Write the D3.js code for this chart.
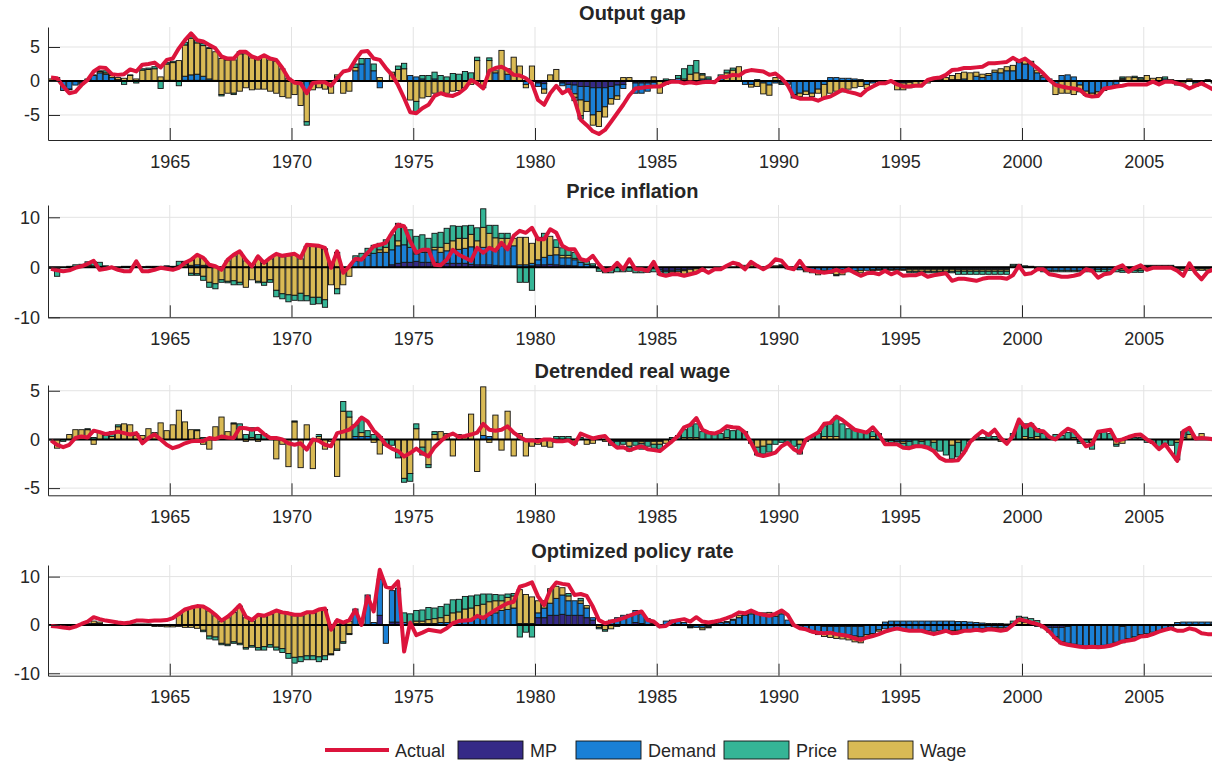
<!DOCTYPE html>
<html>
<head>
<meta charset="utf-8">
<script src="https://cdn.jsdelivr.net/npm/d3@7"></script>
<style>
  body { margin: 0; background: #fff; }
  svg text { font-family: "Liberation Sans", Arial, Helvetica, sans-serif; fill: #262626; }
</style>
</head>
<body>
<svg id="chart" width="1212" height="765"></svg>
<script>
// quarterly data, 1960Q1 .. 2007Q4 (16 quarters per row)
// an entry [up, down] means the group has a positive and a negative part that quarter
var firstQuarter = 1960.125;
var xTicks = [1965, 1970, 1975, 1980, 1985, 1990, 1995, 2000, 2005];
var seriesNames = ["MP", "Demand", "Price", "Wage"];

// ---- Output gap
var gapAct = [
0.5,0.4,-0.8,-1.8,-1.6,-0.6,0.15,1.4,2.0,1.9,1.0,0.9,1.0,1.7,1.4,2.4,
2.5,2.7,2.0,3.1,3.3,4.8,6.0,7.0,6.0,5.8,5.3,4.8,3.6,3.3,3.3,4.3,
4.3,3.6,3.3,3.8,3.3,3.1,1.9,0.4,-0.25,-0.35,-1.8,-0.3,-0.2,-0.2,-0.7,0.4,
1.4,1.6,3.1,4.3,4.4,3.3,3.1,1.9,0.9,-0.6,-2.5,-4.6,-4.75,-4.0,-3.5,-2.2,
-1.8,-2.1,-2.2,-1.8,-1.1,0.15,-0.35,-1.1,1.5,1.9,2.1,1.6,0.9,0.8,0.4,-0.35,
-2.8,-3.5,-1.8,-0.7,-1.8,-1.3,-2.8,-5.7,-6.5,-7.4,-7.8,-7.2,-6.0,-4.75,-3.5,-2.1,
-1.1,-1.0,-0.9,-0.8,-0.8,-0.35,-0.1,-0.1,-0.35,-0.2,-0.35,-0.2,-0.1,-0.2,0.6,0.6,
0.9,0.8,1.4,1.6,1.5,1.4,0.9,1.1,0.4,-0.6,-2.3,-2.6,-2.6,-2.6,-2.9,-2.5,
-2.3,-1.8,-1.3,-1.6,-1.8,-2.1,-1.3,-0.8,-0.35,-0.35,0,-0.5,-0.8,-0.8,-0.7,-0.7,
0.15,0.4,0.5,0.9,1.6,1.7,1.9,1.9,2.0,2.1,2.6,2.6,2.7,2.8,3.4,2.9,
3.3,2.6,1.9,1.1,0.15,-0.6,-0.8,-1.0,-1.1,-1.3,-2.1,-2.3,-2.2,-1.1,-1.0,-0.8,
-0.7,-0.5,-0.5,-0.5,-0.5,-0.1,-0.5,-0.1,-0.1,-0.35,-0.6,-1.1,-0.7,-0.35,-0.8,-1.3];
var gapMP = [
0,0,0,0,0,0,0,0,0,0,0,0,0,0,0,0,
0,0,0,0,0,0,0.1,0.1,0.1,0.1,0,0,0,0,0,0,
0,0,0,0,0,0,0,0,0,0,0,0,0,0,0,0,
0,0,0,0,0,0,0,0,0,0,0,0,0,0,0,0,
0,0,0,0,0,0,0,0,0,0,0,0,0,0,0,0,
-0.3,-0.4,0,0,-0.3,-0.5,-0.6,-0.8,-0.8,-1.0,-1.0,-1.0,-0.8,-0.6,-0.5,0,
-0.3,-0.3,-0.3,-0.2,0,0,0,0,0,0,0,0,0,0,0,0,
0,0,0,0,0,0,0,0,0,0,0,0,0,0,0,0,
0,0,0,0,0,0,0,0,0,0,0,-0.3,-0.3,-0.2,0,0,
0,0,0,0,0,0,0,0,0,0,0,0,0,0,0,0.2,
0.2,0,0,0,0,0,0,0,0,0,0,0,0,0,0,0,
0,0,0,0,0,0,0,0,0,0,0,0,0,0,0,0];
var gapDem = [
0,0,-1.4,-1.2,-0.6,-0.3,0.2,0.8,1.2,1.0,0.5,0.2,0,0,0,0,
0,0,0,0.1,0.1,0,0.6,0.8,0.9,0.6,0.3,0.1,0,0,0,0,
0,0,0,0,0,0,0,0,0,0,-1.5,0,0,0,0,0.6,
0,0,1.5,2.5,3.3,1.5,-1.0,0,0,0,0,0.8,0.6,0.3,0,0.3,
0,0,0,0,0,0,0,0,0,1.2,0,1.0,0,0,-0.5,0,
-0.5,-0.8,0,0,-0.4,-0.8,-1.3,-2.0,-2.2,-4.0,-3.5,-2.8,-1.8,-1.6,-0.6,0,
-1.5,-1.5,-1.2,-0.5,0,-0.5,0,0.4,0,0,0,0.3,0.3,0,0.5,0,
0,0,-0.5,-0.5,0.2,-0.3,-0.6,-0.3,-0.3,-0.5,-2.0,-1.8,-1.5,-1.8,-1.2,-0.5,
0.5,0.5,0.4,0.4,0.3,0.2,-0.5,-0.3,0,0,0,0,0,0,0,0,
0,0,0.2,0,0.2,0.2,0.3,0,0.7,0.5,0.8,1.3,1.2,1.5,1.5,2.5,
2.3,2.6,1.2,0.6,0.3,-0.5,0.8,0.9,0.6,-0.6,-1.5,-1.8,-1.6,-1.2,-1.0,-0.5,
0.2,0,0,0,0,0,0,0.3,0,0,0,0,-0.3,0,0,0];
var gapPri = [
0,0,0,-0.1,0,-0.2,0,0,0.1,0.3,0.3,0,-0.5,0.1,-0.3,0.2,
0.2,0.3,-1.1,0.2,0.2,-0.7,0.4,0.5,0.4,0.3,0.1,0,-0.2,0.1,-0.2,0.3,
0,0,0,0,0,0,0,0,0,0,-0.5,0,0,0,0,0,
0,0,0.5,0.8,0,1.0,0,0,0,0.5,0.8,0,-1.5,0.5,0.8,1.0,
0.8,0.6,1.1,1.0,1.4,1.2,0.5,0,0.4,0,0,0,0,0,0,0,
0,0,0,0,0,0,-0.5,-0.5,0,0,0,0,0,0,0,0,
0,0,0,0,0,0.3,0.2,0.4,1.5,1.3,1.8,0.2,0.3,0,0.4,0.4,
0.3,0,0,0,0,0,0,0,-0.2,0,-0.5,0,0,0,0,0,
0,0,0,0,0,0,0,0,0,0,0,0,0,0,0,0,
0,0,0,0,0,0,0,0,0,0,0,0,0,0,0,0,
0,0,0,0,0,0,0,0,0,0,0,0,0,0,0,0,
0.2,0,0.2,0.2,0,0,0,0.3,0,0,0,0,0,-0.4,0,0];
var gapWag = [
0.3,0.5,0,0,0,0,0.1,0.1,0.2,0.2,0.3,0.3,0.4,0.8,0.3,1.6,
1.7,1.8,0.6,2.4,2.6,3.0,4.6,5.4,4.6,4.5,4.5,4.2,[3.3,-2.0],[3.1,-1.8],[3.1,-1.8],[4.0,-1.5],
[4.0,-1.0],[3.4,-1.3],[3.1,-1.2],[3.6,-1.2],[3.1,-1.5],[2.9,-1.8],[1.8,-2.3],[0.4,-2.5],-2.0,-3.6,-4.5,-1.3,-1.0,-1.2,-1.8,0.3,
-1.8,-1.5,0.5,0,0,0,0.5,0,1.3,1.7,1.8,-2.8,-3.0,-2.5,-2.3,-1.8,
-1.7,-1.8,-1.5,-1.4,-1.0,-0.5,3.0,-1.0,3.0,0.3,4.5,0.8,3.5,2.2,-0.5,2.2,
0,-0.6,0.9,1.7,0,0,-0.5,-2.3,-1.5,-1.5,-2.2,-1.5,-0.8,-0.5,0.5,0.5,
0,0,0,0.6,-1.8,0,0,0,0.3,1.0,1.2,0.6,0,0,0,1.2,
1.6,2.1,0,-0.4,-0.8,-1.6,-1.5,0.5,0,0,0,-0.5,-0.5,-0.5,-0.6,-2.0,
-1.8,-1.5,-1.6,-1.2,-1.0,-0.8,-0.6,0,0,-0.2,0,-1.0,-1.0,-0.8,-0.7,-0.5,
-0.3,0.2,0.3,0.5,0.6,0.9,1.0,1.2,0.6,0.5,0.3,0.3,0.6,0.6,0.8,0.4,
0.5,0.3,0.4,0.2,0,-1.5,-1.8,-1.8,-2.0,-1.0,-0.6,-0.5,-0.4,-0.2,0,0.1,
0.2,0.6,0.5,0.3,0.8,0.4,0.5,0,0.2,-0.6,-0.3,0.3,-0.5,0,0.2,-0.3];

// ---- Price inflation
var infAct = [
-0.3,-0.6,-0.8,-0.6,-0.1,0.2,0.7,1.3,-0.5,-0.3,0,-0.5,-0.8,-0.8,1.2,-0.8,
-0.8,-0.5,-0.1,-0.3,-0.5,-0.1,0.9,1.5,2.5,1.9,0.5,0.2,-0.5,1.5,2.5,3.2,
1.5,0.2,2.2,0.9,1.9,2.7,2.3,2.5,2.7,1.9,4.5,4.4,4.3,3.9,-0.1,3.2,
-1.1,0.2,1.7,1.5,2.9,4.2,4.5,4.9,6.9,8.5,8.2,5.2,2.9,3.5,3.5,0.5,
0.4,1.5,3.5,2.5,1.9,1.3,3.9,2.9,3.9,3.3,4.9,3.6,6.3,7.3,6.9,7.9,
5.6,5.6,7.6,6.9,4.3,3.6,3.6,1.6,1.3,2.3,0.6,-0.7,-0.4,0.9,-0.4,1.6,
-0.4,-0.4,-0.7,1.1,-1.4,-1.7,-1.4,-1.4,-1.7,-1.4,-1.1,-0.4,-1.1,-0.4,-0.4,0.3,
0.9,0.6,-0.4,1.1,0.3,-0.4,0.3,1.6,1.3,-0.1,-0.4,1.3,-0.4,-0.7,-0.9,-1.1,
-0.9,-0.5,-0.9,-0.4,-1.1,-1.7,-1.2,-1.1,-1.4,-0.7,-1.4,-0.9,-1.7,-1.6,-1.6,-1.2,
-1.9,-1.6,-1.4,-1.2,-2.7,-2.3,-2.3,-2.5,-2.7,-2.3,-2.1,-2.1,-2.1,-2.3,-1.6,0.3,
-1.4,-1.2,-0.4,-0.4,-1.4,-1.6,-1.9,-1.9,-1.7,-1.4,-0.4,-0.7,-2.1,-1.4,-1.2,-0.1,
0.4,-0.9,-0.1,0.4,-0.5,-0.1,-0.1,-0.1,-0.1,-0.7,-1.7,0.8,-1.1,-2.4,-0.9,-0.4];
var infMP = [
0,0,0,0,0,0,0,0,0,0,0,0,0,0,0,0,
0,0,0,0,0,0,0,0,0,0,0,0,0,0,0,0,
0,0,0,0,0,0,0,0,0,0,0,0,0,0,0,0,
0,0,0,0,0,0,0,0,0.5,0.8,1.0,1.0,1.2,1.0,1.0,1.0,
0.8,0.8,0.8,0.8,0.8,0.6,0.5,0.5,0.5,0.4,0.3,0.3,0.3,0,0,0.3,
0.5,0.5,0.6,0.5,0.4,0.4,0.3,0,0,0,0,0,0,0,-0.2,0,
-0.2,-0.3,0,-0.3,-0.5,-0.6,-0.6,-0.5,-0.5,-0.4,-0.3,-0.2,0,0,0,0,
0,0,0,0,0,0,0,0,0,0,0,0,0,0,0,0,
0,0,0,0,0,0,0,0,-0.1,-0.1,-0.1,-0.1,-0.1,-0.2,-0.2,-0.2,
-0.2,-0.2,-0.2,-0.2,-0.2,-0.3,-0.3,-0.3,-0.3,-0.3,-0.3,-0.3,-0.3,-0.3,0,0,
0,0,0,0,0,0,0,0,0,0,0,0,0,0,0,0,
0,0,0,0,0,0,0,0,0,0,0,0,0,0,0,0];
var infDem = [
0,0,0,0,0,0,0,0,0.2,0,0,0,0.2,0.1,0.2,0.1,
0.2,0.2,0.2,0.3,0.2,0,0,0.4,0.5,0.4,0.3,0,0,0,0,0,
0,0,0,0,0,0,0,0,0,0,0,0,0,0,0,0,
0,0,1.3,1.6,2.4,2.8,3.0,3.0,3.0,3.5,3.5,3.0,1.5,2.0,2.0,2.5,
2.2,2.5,2.5,2.8,3.0,3.5,3.0,3.5,3.5,3.0,4.0,3.5,4.0,0.5,0.5,0.5,
1.0,1.5,1.8,2.0,1.5,1.5,1.2,1.0,0.6,0.3,0,0,0,0,0,0,
0,0,0,0,-0.3,-0.3,-0.3,-0.3,-0.2,0,0,0,0,0,0,0,
0,0,0,0,0,0,0,0,0.3,-0.3,-0.4,-0.5,-0.6,-0.8,-0.7,-0.6,
-0.6,-0.5,-0.5,-0.6,-0.7,-0.6,-0.6,-0.5,-0.3,-0.3,-0.3,-0.3,-0.3,-0.2,-0.2,-0.2,
-0.2,-0.2,-0.2,-0.2,-0.2,-0.2,-0.2,-0.2,-0.2,-0.2,-0.2,-0.2,-0.2,-0.2,0,0,
0,0,-0.3,-0.6,-0.6,-0.6,-0.6,-0.6,-0.6,-0.6,-0.6,-0.4,-0.4,-0.4,-0.4,-0.4,
-0.3,-0.3,-0.3,-0.3,0.2,0.2,0.2,0.2,0.2,-0.3,-0.3,-0.3,-0.3,-0.3,-0.3,-0.3];
var infPri = [
0,-1.5,0,0.2,0.5,0.6,0.8,0.8,0.8,0.3,0,0,0,0.1,0,0,
0,0,0,0,0,0.8,0.7,-0.4,-0.3,-0.8,-1.0,-1.0,-0.5,-0.3,-0.8,-0.5,
0,0,-0.3,-0.6,-0.5,-1.3,-1.0,-1.4,-1.0,-1.5,-1.0,-1.4,-1.3,-1.5,0.3,-1.0,
0,0,1.0,1.2,1.4,1.6,1.3,1.5,3.0,3.5,3.5,3.5,3.5,3.5,2.8,2.8,
3.0,3.0,3.0,2.4,2.5,1.8,2.6,3.7,1.6,2.5,1.0,1.0,0,-3.0,-3.0,-4.6,
0,0.8,0,1.5,1.5,1.3,1.2,0.7,0.6,0.4,-0.5,-0.8,-0.8,-0.9,-0.7,-0.8,
-0.9,-0.8,-1.0,-0.6,-0.7,-0.5,-0.3,0,0,0,0,0,0,0,0,0,
0,0,0,0,0,0,0,0,0.2,0,0,0,0,0,0,0,
0,-0.2,0,0,0,0,0,0,0,0,0,0,0,-0.3,-0.3,-0.3,
-0.3,-0.3,-0.3,-0.3,-0.3,-0.6,-0.6,-0.6,-0.6,-0.6,-0.6,-0.6,-0.6,-0.6,0.3,0.4,
0.3,0.2,0,-0.3,-0.3,-0.3,-0.3,-0.3,-0.3,-0.3,-0.3,-0.5,-0.5,-0.5,-0.5,-0.5,
-0.4,-0.4,-0.4,-0.4,0.2,0.2,0.2,0.2,0.2,0,0,0,0,0,0,0];
var infWag = [
-0.2,-0.3,0,0,0,0,0.3,0.3,0,0,0,0,0,0,0,0,
0,0,0,0,0,0.4,0.5,[1.0,-1.2],[1.8,-1.3],[1.4,-1.8],[0.2,-3.0],[0.1,-3.3],-2.5,[1.3,-2.8],[2.3,-2.7],[3.0,-3.0],
[1.3,-4.0],[0.1,-2.5],[2.0,-2.8],[0.8,-3.0],[1.7,-2.5],[2.5,-4.6],[2.1,-5.3],[2.3,-5.5],[2.5,-5.6],[1.7,-5.2],[4.2,-5.7],[4.2,-6.0],[4.1,-6.0],[3.7,-6.5],-3.5,[3.0,-4.3],
-3.5,-1.8,0,0,0,0,0.5,1.0,0,1.0,0,0,0,0,0,0.5,
1.0,1.5,2.0,2.2,2.0,2.5,1.8,4.0,2.8,2.5,1.5,2.0,1.5,5.5,5.5,4.0,
4.5,4.0,3.8,1.5,0.5,0.5,0.3,0,0,0,-0.3,-0.3,-0.3,0,0,0,
0,0,0,0,0,0,-0.3,-0.5,-0.7,-0.8,-0.8,-0.3,0,0,0,0,
0,0.5,0.4,0.5,0,0,0,0.3,0,0,0,0,-0.3,-0.3,-0.8,-0.6,
-0.6,-1.0,-1.0,-0.3,-0.3,-0.5,0,-0.2,-0.2,-0.2,-0.2,-0.2,-0.2,-0.4,-0.4,-0.4,
-0.4,-0.4,-0.4,-0.4,-0.4,-0.3,-0.3,-0.3,-0.3,-0.3,-0.3,-0.3,-0.3,-0.3,0.3,0.2,
0,0,0,0,0,0,0,0,0,0,0,0,0,0,0,0,
-0.3,-0.3,-0.3,-0.3,0,0,0,0,0,-0.3,-0.3,-0.3,-0.3,-0.3,-0.3,-0.3];

// ---- Detrended real wage
var wageAct = [
-0.1,-0.55,-0.8,-0.55,0.15,0.3,0.2,0.9,0.75,0.55,0.65,0.8,0.65,0.5,0.65,-0.4,
0.15,0.5,0,-0.55,-0.9,-0.7,-0.4,-0.2,-0.15,-0.15,0.15,0.05,0.3,0.2,0.15,1.2,
1.15,1.0,1.1,0.55,0.15,0.15,0,-0.4,-0.55,-0.4,-1.05,0,-0.15,-0.55,-0.7,0.65,
0.8,1.0,1.5,2.25,1.85,0.9,0.3,-0.55,-0.95,-1.2,-1.75,-1.4,-0.95,-1.4,-1.75,-0.8,
-0.2,0.35,0.6,0.25,0.35,0.5,0.7,1.6,1.0,0.9,1.0,1.35,0.7,0.25,-0.1,-0.1,
-0.2,0,0,-0.2,-0.2,-0.1,-0.5,0.6,0.35,0.1,0.25,0.35,-0.35,-0.85,-0.8,-1.1,
-0.9,-0.7,-1.0,-1.1,-1.2,-0.7,-0.2,0.35,1.25,1.5,2.2,1.0,0.7,0.6,0.85,1.35,
1.25,1.2,0.7,-0.35,-1.55,-1.7,-1.55,-1.35,-0.7,-0.35,-1.0,-1.35,0,0.35,0.7,1.6,
1.7,2.35,2.0,1.5,1.0,0.85,0.7,1.25,0.5,-0.5,-0.5,-0.5,-0.85,-0.9,-0.7,-0.7,
-0.85,-1.2,-1.9,-2.2,-2.2,-2.15,-1.35,-0.25,0.35,0.85,0.45,1.0,0.15,-0.45,0.35,2.05,
1.25,1.6,0.9,0.85,0.25,0,0.6,1.1,0.85,0.15,-0.7,-0.5,0.8,0.9,1.0,-0.15,
0,0.25,0.45,0.5,0,-0.35,-1.0,-0.5,-1.35,-2.2,0.85,1.2,0.1,0.15,0.1,0];
var wageMP = [
0,0,0,0,0,0,0,0,0,0,0,0,0,0,0,0,
0,0,0,0,0,0,0,0,0,0,0,0,0,0,0,0,
0,0,0,0,0,0,0,0,0,0,0,0,0,0,0,0,
0,0,0,0,0,0,0,0,0,0,0,0,0,0,0,0,
0,0,0,0,0,0,0,0,0,0,0,0,0,0,0,0,
0,0,0,0,0,0,0,0,0,0,0,0,-0.1,-0.1,-0.1,-0.1,
-0.1,-0.1,-0.1,-0.1,-0.1,0,0,0,0,0,0,0,0,0,0,0,
0,0,0,0,0,0,0,0,0,0,0,0,0,0,0,0,
0,0,0,0,0,0,0,0,0,0,0,0,0,0,0,0,
0,0,0,0,0,0,0,0,0,0,0,0,0,0,0,0,
0,0,0,0,0,0,0,0,0,0,0,0,0,0,0,0,
0,0,0,0,0,0,0,0,0,0,0,0,0,0,0,0];
var wageDem = [
0,0,0,0,0,0,0,0,0,0,0,0,0,0,0,0,
0,0,0,0,0,0,0,0,0,0,0,0,0,0,0,0,
0,0,0,0,0,0,0,0,0,0,0,0,0,0,0,0,
0,0,0.3,0.3,0.3,0,0,0,0,0,0,0,0,0,0,0,
0,0,0,0,0,0,0,0.4,0.3,0,0,0,0,0,0,0,
0,0,0,0,0,0,0,0,0,0,0,0,-0.2,-0.1,-0.1,-0.1,
-0.1,-0.1,-0.1,-0.1,-0.1,0,0,0,0,0,0,0,0,0,0,0,
0,0,0,0,0,0,0,0,0,0,0,0,0,0,0,0,
0,0,0,0,0,0,0,0,0,0,-0.1,-0.2,-0.2,-0.2,0,0,
0,0,0,0,0,0,0,0,0,0,0,0,0,0,0,0,
0,0,0,0,0,0,0,0,0,-0.2,0,0,0,0,0,0,
0,0,0,0,0,0,0,0,0,0,0,0,0,0,0,0];
var wagePri = [
0,0,-0.2,0,0,0,0.1,0.2,0,0.4,0.5,0.2,0,0,0.2,0,
0,0,0,0,0,0,0,0,0.1,0.2,0,0,0,0,0.1,0.5,
0.5,1.0,0.5,0.6,0.3,0,0,0,0.1,0,0,0,0.2,0,0,0,
1.0,0.6,1.2,1.5,0.6,0.5,0.3,-0.6,-0.6,-0.6,-0.4,-0.8,0.5,-0.8,-0.3,0.3,
0,0,0,0,0,0,0,0,0,0,0,0,0,0,0,0,
0.1,0,0,0.3,0.3,0.3,0,0.2,0,0.1,0.2,0,-0.3,-0.5,-0.3,-0.5,
-0.4,-0.6,-0.5,-0.4,-0.5,0,0.2,0.4,0.8,1.2,1.4,0.8,0.6,0.6,0.6,0.8,
0.9,1.0,0.8,-0.4,-0.8,-0.8,-0.8,-0.5,-0.3,-0.3,-0.7,-1.0,-0.2,0.3,0.6,1.1,
1.3,2.0,1.6,1.1,1.0,0.9,0.7,0.5,0.6,-0.2,-0.2,-0.3,-0.4,-0.5,-0.6,-0.5,
-0.7,-0.8,-1.2,-1.6,-1.4,-1.5,-1.2,-0.2,0.3,0.2,0.4,0.3,0,0,0.6,1.6,
1.3,1.4,0.8,0.6,0.3,0.3,0.4,0.7,0.6,-0.2,-0.3,-0.7,0.6,0.8,0.6,-0.2,
0,0.3,0.2,0.2,-0.3,-0.4,-0.9,-0.4,-0.6,-1.8,0.6,0.4,0.2,0,0.1,0];
var wageWag = [
0,-0.9,0,0.5,1.0,1.0,1.0,-0.5,0.8,0,0.3,1.3,1.6,1.5,0.4,0.4,
1.1,0.7,1.7,0.9,1.5,3.0,1.8,1.0,0.9,-0.5,-1.0,1.3,2.3,0.8,1.6,1.1,
-0.2,0.2,-0.2,0,0,-2.0,-0.5,-2.8,1.8,-2.9,1.5,-3.0,0.3,-1.0,-0.2,-3.8,
2.9,2.3,0,0.4,0,-0.3,-1.5,0,0,-1.3,-4.0,-3.5,1.1,-0.8,-2.6,0.5,
0.8,0.6,-1.7,0.5,0.3,2.6,-3.3,5.0,-0.3,2.5,-1.1,2.9,-1.7,0.6,-1.7,-0.7,
-0.5,-0.7,-0.8,-0.3,0,0,-0.5,0,-0.5,-0.4,0,-0.2,0,0,0,-0.5,
0,-0.2,0,-0.3,-0.3,-0.4,0,0,0.2,0.2,0.2,0,0,0,0,0.2,
0,0,0,0,-0.8,-0.7,-0.5,0,0,0,0,-0.5,0,0,0,0.3,
0.3,0.3,0,0,0,0,0,0.3,0,0,0,0,-0.2,0,0,-0.2,
0,-0.3,0,0,-0.6,-0.3,0,0,0,0,0,0,-0.2,0,0,0,
0.3,0.2,0.3,0,0,0.2,0,0,0.2,0,0,-0.3,0,0,0,-0.5,
-0.4,0,0,0,0,0,0,0,0,-0.3,0.2,0.5,0,0.6,0,0];

// ---- Optimized policy rate
var rateAct = [
-0.2,-0.35,-0.55,-0.7,-0.35,0.2,0.7,1.6,1.2,0.9,0.7,0.5,0.35,0.5,0.9,0.9,
0.8,0.9,0.9,1.0,1.4,2.3,3.2,3.6,3.9,3.8,3.1,2.1,0.9,1.7,2.8,4.1,
1.7,1.0,2.1,1.9,2.4,3.0,2.6,2.4,2.1,2.1,2.6,2.6,3.2,3.4,-1.0,1.0,
0.5,1.0,3.1,0,5.9,2.8,11.4,7.9,7.6,9.0,-5.5,0.5,-2.1,-1.6,-1.0,-1.2,
-1.4,-0.7,0.35,0.8,0.9,1.0,1.9,1.4,2.3,3.1,3.8,4.5,4.8,7.9,8.3,8.8,
5.9,4.1,7.2,8.8,8.5,8.3,6.2,6.4,6.0,3.8,1.0,0.35,0.7,1.0,1.4,1.9,
2.4,2.8,1.0,0.7,-0.35,-0.2,0.7,1.0,1.2,0.7,1.6,0.7,0.5,0.7,1.0,1.4,
1.9,2.6,2.4,3.0,2.4,2.1,1.9,2.3,3.0,2.1,0,-0.7,-0.9,-1.4,-1.6,-1.7,
-1.6,-1.9,-2.1,-2.3,-2.8,-3.1,-2.6,-2.3,-1.9,-1.4,-1.0,-0.7,-1.0,-1.2,-1.2,-1.2,
-1.6,-1.9,-1.6,-1.2,-1.7,-1.6,-1.2,-1.2,-1.0,-1.2,-0.9,-1.0,-1.2,-1.0,0,1.2,
0.9,0.5,0.2,-0.35,-1.4,-2.8,-3.8,-4.1,-4.3,-4.5,-4.6,-4.5,-4.6,-4.5,-4.3,-3.9,
-3.4,-3.2,-3.0,-2.4,-2.3,-1.9,-1.4,-1.0,-0.7,-1.2,-1.2,-0.7,-1.0,-1.7,-1.9,-1.9];
var rateMP = [
0,0,0,0,0,0,0,0,0,0,0,0,0,0,0,0,
0,0,0,0,0,0,0,0,0,0,0,0,0,0,0,0,
0,0,0,0,0,0,0,0,0,0,0,0,0,0,0,0,
0,0,0,0,0,0,2.0,0,0.6,0.6,0,0,0,0,0,0,
0,0,0,0,0,0,0,0,0,0,0,0,0,0,0,0,
1.5,1.5,2.0,2.0,2.2,2.0,2.0,2.0,1.5,1.0,0,0,0,0,0,0,
0.5,0.3,0,0,0,0,0,0,0,0,0,0,0,0,0,0,
0,0,0,0,0,0,0,0,0,0,0,0,0,0,0,-0.3,
-0.3,-0.3,-0.3,-0.3,-0.3,-0.3,0,0,0,0,0,0,0,0,0,0,
0,0,0,0,0,0,0,0,0,0,0,0,0,0,0,0,
0,0,0,0,-0.5,-0.5,-0.5,-0.3,0,0,0,0,0,0,0,0,
-0.3,0,0,0,0,0,0,0,0,0,0,0,0,0,0,0];
var rateDem = [
0,0,0,0,0,0,0,0.3,0.3,0,0,0,0,0,0,0,
0,0,0,0,0,0,0,0,0,0,0,0,0,0,0,0,
0,0,0,0,0,0,0,0,0,0,0,0,0,0,0,0,
0,0,3.3,0.2,6.2,0.5,7.5,-3.8,6.5,7.0,0.5,0.3,0.3,0.3,0.3,0.3,
0.5,0.5,0.5,0.7,0.8,1.0,1.5,1.8,2.0,2.5,3.0,3.2,3.5,0.3,0.3,0.3,
1.0,2.0,2.5,3.5,4.0,3.0,3.0,2.5,2.0,0.5,0,0,1.0,1.5,2.0,2.2,
2.5,2.0,1.3,0.3,-0.4,0.8,1.0,0.8,0.5,-0.4,-0.5,-0.6,-0.4,0.3,0.5,0.6,
1.0,1.5,2.0,2.3,2.5,2.2,2.0,1.8,2.3,1.0,-0.3,-0.5,-0.8,-1.2,-1.5,-1.3,
-1.5,-1.6,-1.7,-1.8,-2.0,-2.2,-2.0,-1.8,-1.0,[0.6,-0.8],[0.8,-0.9],[0.8,-1.0],[0.8,-1.1],[0.8,-1.2],[0.8,-1.2],[0.8,-1.2],
[0.8,-1.2],[0.8,-1.3],[0.8,-1.2],[0.8,-1.2],[0.8,-1.2],[0.7,-1.1],[0.7,-1.0],[0.6,-1.0],[0.5,-0.9],[0.4,-0.8],[0.3,-0.6],[0.3,-0.5],[0.3,-0.6],[0.2,-0.5],0,0,
0,0,-0.3,-0.6,-1.0,-2.0,-3.0,-3.5,-4.0,-4.2,-4.4,-4.3,-4.3,-4.2,-4.0,-3.6,
-3.0,-2.8,-2.5,-2.0,-1.8,-1.5,-1.2,-0.8,-0.5,0.5,0.6,0.6,0.6,0.6,0.6,0.6];
var ratePri = [
0,0,0,0,0,0,0,0,0,0,0,0,0,0,0,0,
0,0,0,0,0,0,0,0,0,-0.3,-0.6,-0.6,-0.3,-0.3,-0.3,-0.3,
-0.3,-0.3,-0.5,-0.7,-0.5,-0.6,-0.8,-1.0,-1.2,-1.0,-0.8,-0.8,-1.0,-0.8,-0.2,-0.3,
-0.3,-0.2,0,0,0,0,0,0,0,0,2.0,2.0,2.2,2.3,2.5,2.2,
2.3,2.3,2.7,2.6,2.6,2.5,2.2,2.1,1.6,1.3,1.2,0.7,0.5,-2.5,-1.5,-2.5,
0,0,0,0,0,0.5,0,0.5,0,0,-0.3,-0.3,0,0,0,0,
0,0,0,0,0,0,0,0,0,-0.2,0,0,0,0,0,0,
0,0,0,0,0,0,0,0,0.2,0,0,0,0,0,0,0,
0,0,0,0,0,0,0,0,0,0,0,0,0,0,0,0,
0,0,0,0,0,0,0,0,0,0,0,0,0,0,0.5,1.0,
1.0,0.8,0.6,0,0,0,0,0,0,0,0,0,0,0,0,0,
0,0,0,0,0,0,0,0,0,0,0,0,0,0,0,0];
var rateWag = [
0,0,0,0,0,0.2,0.3,0.5,0.3,0.1,0.1,0.1,0.1,0.1,0.2,0.2,
0.2,-0.3,-0.3,-0.4,-0.4,[2.1,-0.3],[3.0,-0.5],[3.4,-0.5],[3.7,-0.7],[3.6,-1.1],[2.9,-2.3],[1.9,-2.5],[0.7,-3.8],[1.5,-4.0],[2.6,-3.5],[3.9,-3.8],
[1.5,-4.7],[0.8,-4.3],[1.9,-4.7],[1.7,-4.5],[2.2,-4.1],[2.8,-4.6],[2.4,-4.9],[2.2,-5.9],[1.9,-6.7],[1.9,-6.6],[2.4,-6.4],[2.4,-6.4],[3.0,-6.6],[3.2,-6.4],-6.0,[0.8,-5.0],
[0.3,-3.5],[0.8,-1.8],0,0,0,0,0,0,0,0,0,0,0.5,0.5,0.8,1.0,
1.0,1.5,2.0,2.0,2.5,2.5,2.5,2.5,2.8,2.5,2.0,2.5,2.5,7.0,6.0,5.5,
2.5,1.5,3.0,2.5,1.5,1.0,0,0.5,0.5,0,-0.5,-1.0,-0.8,-0.3,0,0,
0,0,0,0.2,0,0,0,0,0,0,0,-0.4,-0.2,0,0,0.1,
0.2,0.5,0.3,0.3,0,0.3,0.6,0.6,0.4,0,0,0,0,-0.3,-0.5,-0.8,
-0.8,-0.9,-0.9,-1.0,-1.2,-1.2,-0.8,-0.5,-0.3,0,0,0,0,0,0,0,
0,0,0,0,-0.3,-0.3,-0.3,-0.3,-0.3,-0.3,-0.3,-0.3,-0.3,0,0.3,0.8,
0.6,0.5,0.3,0,0,-0.3,-0.4,-0.4,-0.3,0,0,0,0,0,0,-0.3,
-0.4,-0.5,-0.4,-0.3,0,0,0,0,0,0,0,0,0,0,0,0];

var panels = [
  { title: "Output gap", act: gapAct, parts: [gapMP, gapDem, gapPri, gapWag],
    top: 27, bottom: 140, lo: -8.68, hi: 7.94, ticks: [-5, 0, 5] },
  { title: "Price inflation", act: infAct, parts: [infMP, infDem, infPri, infWag],
    top: 205, bottom: 317.3, lo: -10, hi: 12.46, ticks: [-10, 0, 10] },
  { title: "Detrended real wage", act: wageAct, parts: [wageMP, wageDem, wagePri, wageWag],
    top: 385, bottom: 495.3, lo: -5.74, hi: 5.59, ticks: [-5, 0, 5] },
  { title: "Optimized policy rate", act: rateAct, parts: [rateMP, rateDem, ratePri, rateWag],
    top: 565, bottom: 675.7, lo: -10.5, hi: 12.4, ticks: [-10, 0, 10] }
];

var colors = ["#352a87", "#1a80d6", "#35b596", "#d9ba55"];
var lineColor = "#dc143c";
var stackOrder = [0, 1, 3, 2];   // out from zero: MP, Demand, Wage, Price

var svg = d3.select("#chart");
var left = 48, right = 1216.8;
var x = d3.scaleLinear().domain([1960, 2008]).range([left, right]);
var step = x(1960.25) - x(1960);
var barW = step * 0.86;
var defs = svg.append("defs");

function upDown(v) {
  if (Array.isArray(v)) return v;
  v = v || 0;
  return v >= 0 ? [v, 0] : [0, v];
}

panels.forEach(function(p, pi) {
  var y = d3.scaleLinear().domain([p.lo, p.hi]).range([p.bottom, p.top]);
  var g = svg.append("g");

  defs.append("clipPath").attr("id", "clip" + pi)
    .append("rect").attr("x", left).attr("y", p.top)
    .attr("width", right - left).attr("height", p.bottom - p.top);

  // grid
  g.selectAll(".vgrid").data(xTicks).enter().append("line")
    .attr("x1", function(d) { return x(d); }).attr("x2", function(d) { return x(d); })
    .attr("y1", p.top).attr("y2", p.bottom)
    .attr("stroke", "#e3e3e3").attr("stroke-width", 1);
  g.selectAll(".hgrid").data(p.ticks).enter().append("line")
    .attr("x1", left).attr("x2", right)
    .attr("y1", function(d) { return y(d); }).attr("y2", function(d) { return y(d); })
    .attr("stroke", "#e3e3e3").attr("stroke-width", 1);

  // stacked segments, positives upward and negatives downward
  var segs = [];
  p.act.forEach(function(a, k) {
    var t = firstQuarter + 0.25 * k, up = 0, dn = 0;
    stackOrder.forEach(function(s) {
      var v = upDown(p.parts[s][k]);
      if (v[0] > 0) { segs.push({ t: t, s: s, y0: up, y1: up + v[0] }); up += v[0]; }
      if (v[1] < 0) { segs.push({ t: t, s: s, y0: dn, y1: dn + v[1] }); dn += v[1]; }
    });
  });

  var plot = g.append("g").attr("clip-path", "url(#clip" + pi + ")");
  plot.selectAll("rect.bar").data(segs).enter().append("rect")
    .attr("class", "bar")
    .attr("x", function(d) { return x(d.t) - barW / 2; })
    .attr("width", barW)
    .attr("y", function(d) { return y(Math.max(d.y0, d.y1)); })
    .attr("height", function(d) { return Math.abs(y(d.y0) - y(d.y1)); })
    .attr("fill", function(d) { return colors[d.s]; })
    .attr("stroke", "#111").attr("stroke-width", 0.9);

  // zero line
  plot.append("line").attr("x1", left).attr("x2", right)
    .attr("y1", y(0)).attr("y2", y(0))
    .attr("stroke", "#000").attr("stroke-width", 2);

  // actual
  var line = d3.line()
    .x(function(d, k) { return x(firstQuarter + 0.25 * k); })
    .y(function(d) { return y(d); });
  plot.append("path").datum(p.act).attr("d", line)
    .attr("fill", "none").attr("stroke", lineColor)
    .attr("stroke-width", 4).attr("stroke-linejoin", "round");

  // axes
  var yAxis = d3.axisLeft(y).tickValues(p.ticks).tickFormat(function(d) { return String(d); })
    .tickSize(-12).tickSizeOuter(0).tickPadding(8);
  var ya = g.append("g").attr("transform", "translate(" + left + ",0)").call(yAxis);
  var xAxis = d3.axisBottom(x).tickValues(xTicks).tickFormat(function(d) { return String(d); })
    .tickSize(-12).tickSizeOuter(0).tickPadding(15);
  var xa = g.append("g").attr("transform", "translate(0," + p.bottom + ")").call(xAxis);
  [ya, xa].forEach(function(a) {
    a.select(".domain").attr("stroke", "#262626");
    a.selectAll(".tick line").attr("stroke", "#262626");
    a.selectAll("text").attr("font-size", 18).attr("fill", "#262626")
      .style("font-family", "'Liberation Sans', Arial, sans-serif");
  });

  // title
  svg.append("text").attr("x", (left + right) / 2).attr("y", p.top - 7)
    .attr("text-anchor", "middle").attr("font-size", 20).attr("font-weight", "bold")
    .attr("fill", "#000").text(p.title);
});

// legend
var legend = svg.append("g").attr("transform", "translate(0,750)");
legend.append("line").attr("x1", 325).attr("x2", 389).attr("y1", 0).attr("y2", 0)
  .attr("stroke", lineColor).attr("stroke-width", 4);
legend.append("text").attr("x", 395).attr("y", 6.5).attr("font-size", 18).text("Actual");
var legendBoxX = [458, 576, 724, 848];
seriesNames.forEach(function(name, i) {
  legend.append("rect").attr("x", legendBoxX[i]).attr("y", -9).attr("width", 65).attr("height", 18)
    .attr("fill", colors[i]).attr("stroke", "#111").attr("stroke-width", 0.9);
  legend.append("text").attr("x", legendBoxX[i] + 72).attr("y", 6.5).attr("font-size", 18).text(name);
});
</script>
</body>
</html>
